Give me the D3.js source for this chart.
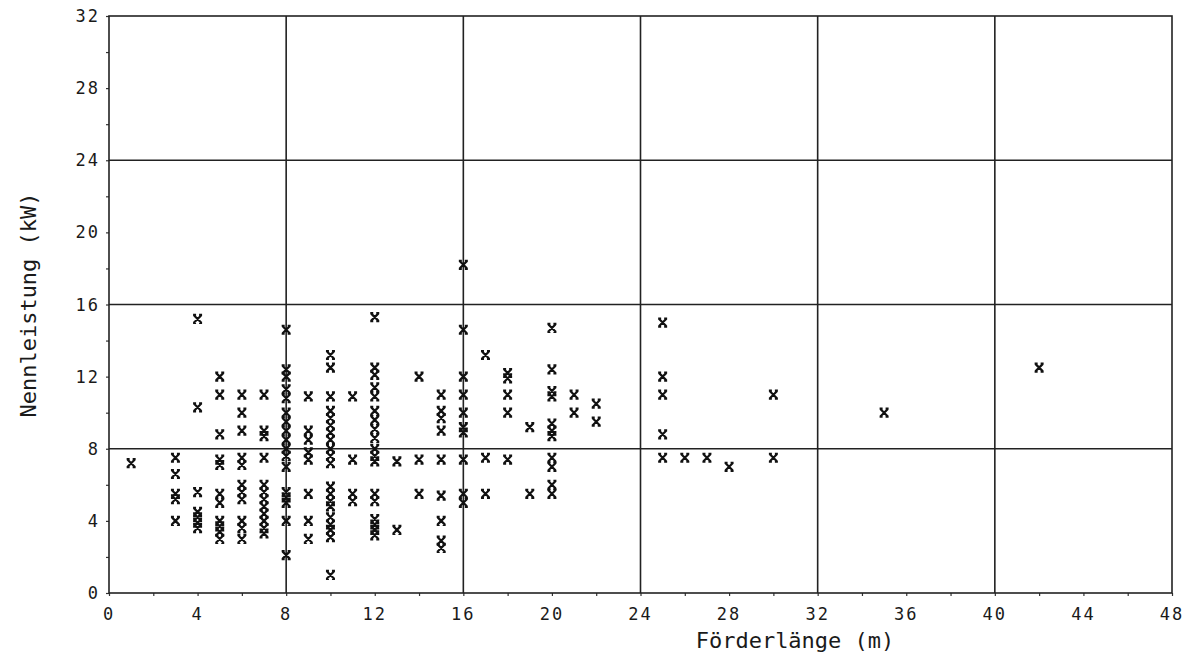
<!DOCTYPE html>
<html>
<head>
<meta charset="utf-8">
<script src="https://cdn.jsdelivr.net/npm/d3@7"></script>
<style>
  body { margin: 0; background: #fff; }
  svg text { font-family: "DejaVu Sans Mono", monospace; fill: #1a1a1a; }
</style>
</head>
<body>
<svg id="chart"></svg>
<script>
// Förderlänge (m) columns and the Nennleistung (kW) values read at each
var laengen = [1, 3, 4, 5, 6, 7, 8, 9, 10, 11, 12, 13, 14, 15, 16, 17, 18, 19, 20, 21, 22, 25, 26, 27, 28, 30, 35, 42];
var leistungen = [
  [7.2],
  [7.5, 6.6, 5.5, 5.2, 4.0],
  [15.2, 10.3, 5.6, 4.5, 4.2, 3.9, 3.6],
  [12, 11, 8.8, 7.4, 7.1, 5.5, 5.0, 4.0, 3.7, 3.4, 3.0],
  [11, 10, 9, 7.5, 7.1, 6.0, 5.6, 5.2, 4.0, 3.6, 3.0],
  [11, 9.0, 8.7, 7.5, 6.0, 5.6, 5.2, 4.8, 4.4, 4.0, 3.6, 3.3],
  [14.6, 12.4, 12.0, 11.3, 10.8, 10.0, 9.5, 9.0, 8.5, 8.0, 7.6, 7.0, 5.6, 5.3, 5.0, 4.0, 2.1],
  [10.9, 9.0, 8.5, 7.8, 7.4, 5.5, 4.0, 3.0],
  [13.2, 12.5, 10.9, 10.1, 9.7, 9.3, 8.9, 8.5, 8.0, 7.6, 7.2, 5.9, 5.5, 5.1, 4.8, 4.2, 3.8, 3.5, 3.1, 1.0],
  [10.9, 7.4, 5.5, 5.1],
  [15.3, 12.5, 12.1, 11.4, 10.9, 10.1, 9.6, 9.1, 8.6, 8.0, 7.6, 7.3, 5.5, 5.1, 4.1, 3.8, 3.5, 3.2],
  [7.3, 3.5],
  [12, 7.4, 5.5],
  [11, 10.1, 9.7, 9.0, 7.4, 5.4, 4.0, 2.9, 2.5],
  [18.2, 14.6, 12.0, 11.0, 10.0, 9.2, 8.9, 7.4, 5.5, 5.0],
  [13.2, 7.5, 5.5],
  [12.2, 11.9, 11.0, 10.0, 7.4],
  [9.2, 5.5],
  [14.7, 12.4, 11.2, 10.9, 9.4, 9.0, 8.7, 7.5, 7.0, 6.0, 5.5],
  [11, 10],
  [10.5, 9.5],
  [15.0, 12.0, 11.0, 8.8, 7.5],
  [7.5],
  [7.5],
  [7.0],
  [11.0, 7.5],
  [10.0],
  [12.5]
];
var xTicks = [0, 4, 8, 12, 16, 20, 24, 28, 32, 36, 40, 44, 48];
var yTicks = [0, 4, 8, 12, 16, 20, 24, 28, 32];
var xGrid = [8, 16, 24, 32, 40];
var yGrid = [8, 16, 24];

var W = 1192, H = 670;
var margin = {top: 16, right: 20, bottom: 77, left: 109};
var width = W - margin.left - margin.right,
  height = H - margin.top - margin.bottom;

var svg = d3.select('#chart').attr('width', W).attr('height', H);
var g = svg.append('g').attr('transform', 'translate(' + margin.left + ',' + margin.top + ')');

var x = d3.scaleLinear().domain([0, 48]).range([0, width]);
var y = d3.scaleLinear().domain([0, 32]).range([height, 0]);

// flatten columns into points
var punkte = [];
laengen.forEach(function(l, i) {
  leistungen[i].forEach(function(p) { punkte.push({x: l, y: p}); });
});

// grid
g.selectAll('.vgrid').data(xGrid).enter().append('line')
  .attr('x1', function(d) { return x(d); }).attr('x2', function(d) { return x(d); })
  .attr('y1', 0).attr('y2', height)
  .attr('stroke', '#222').attr('stroke-width', 1.6);
g.selectAll('.hgrid').data(yGrid).enter().append('line')
  .attr('x1', 0).attr('x2', width)
  .attr('y1', function(d) { return y(d); }).attr('y2', function(d) { return y(d); })
  .attr('stroke', '#222').attr('stroke-width', 1.6);

// axes (minor ticks every 2, labels every 4)
var xAxis = d3.axisBottom(x).tickValues(d3.range(0, 49, 2)).tickSize(3).tickFormat('');
var yAxis = d3.axisLeft(y).tickValues(d3.range(0, 33, 2)).tickSize(3).tickFormat('');
g.append('g').attr('transform', 'translate(0,' + height + ')').call(xAxis);
g.append('g').call(yAxis);
g.selectAll('.domain').remove();
g.selectAll('.tick line').attr('stroke', '#333').attr('stroke-width', 1.2);

// frame
g.append('rect').attr('x', 0).attr('y', 0).attr('width', width).attr('height', height)
  .attr('fill', 'none').attr('stroke', '#222').attr('stroke-width', 1.6);

// tick labels
g.selectAll('.xlab').data(xTicks).enter().append('text')
  .attr('x', function(d) { return x(d); }).attr('y', height + 27)
  .attr('text-anchor', 'middle').style('font-size', '17px').style('letter-spacing', '2px')
  .text(function(d) { return d; });
g.selectAll('.ylab').data(yTicks).enter().append('text')
  .attr('x', -9).attr('y', function(d) { return y(d) + 6; })
  .attr('text-anchor', 'end').style('font-size', '17px').style('letter-spacing', '2px')
  .text(function(d) { return d; });

// titles
svg.append('text').attr('x', 795).attr('y', 648).attr('text-anchor', 'middle')
  .style('font-size', '22px').text('Förderlänge (m)');
svg.append('text').attr('transform', 'translate(36,305) rotate(-90)').attr('text-anchor', 'middle')
  .style('font-size', '22px').text('Nennleistung (kW)');

// heavy x-shaped markers with small serifs
var marker = 'M-3.5,-3.5L3.5,3.5M-3.5,3.5L3.5,-3.5' +
  'M-4.5,-4L-1.5,-4M1.5,-4L4.5,-4M-4.5,4L-1.5,4M1.5,4L4.5,4';
g.selectAll('.pt').data(punkte).enter().append('path')
  .attr('transform', function(d) { return 'translate(' + x(d.x) + ',' + y(d.y) + ')'; })
  .attr('d', marker)
  .attr('fill', 'none').attr('stroke', '#111').attr('stroke-width', 2.2);
</script>
</body>
</html>
